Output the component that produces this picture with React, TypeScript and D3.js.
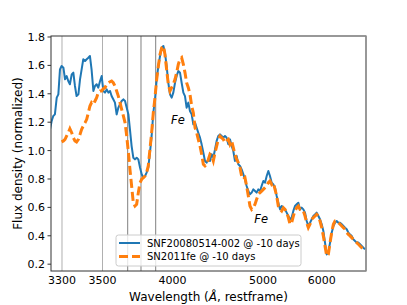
import React from "react";
import * as d3 from "d3";

const xTicks = [3300, 3500, 4000, 5000, 6000];
const yTicks = [0.2, 0.4, 0.6, 0.8, 1.0, 1.2, 1.4, 1.6, 1.8];
const markerLines = [3300, 3500, 3680, 3775, 3880];
const seriesNames = ["SNF20080514-002 @ -10 days", "SN2011fe @ -10 days"];

const waveGrid = [
  3241,3249,3257,3265,3274,3282,3290,3298,3307,3315,3323,3331,3339,3348,3356,3364,3372,3381,3389,3397,3405,3414,3422,3430,3438,3446,3455,3463,3471,3479,3488,3496,
  3506,3518,3530,3542,3554,3565,3577,3589,3601,3613,3625,3637,3649,3661,3673,3685,3696,3708,3720,3732,3744,3756,3768,3780,3792,3804,3815,3827,3839,3851,3863,3875,3887,3899,3911,3923,3935,3946,3958,3970,3982,3994,
  4009,4028,4046,4064,4083,4101,4120,4138,4156,4175,4193,4212,4230,4249,4267,4285,4304,4322,4341,4359,4377,4396,4414,4433,4451,4470,4488,4506,4525,4543,4562,4580,4598,4617,4635,4654,4672,4690,4709,4727,4746,4764,4783,4801,4819,4838,4856,4875,4893,4912,4930,4948,4967,4985,
  5006,5034,5063,5091,5119,5148,5176,5205,5233,5261,5290,5318,5347,5375,5403,5432,5460,5488,5517,5545,5574,5602,5631,5659,5687,5716,5744,5772,5801,5829,5858,5886,5914,5943,5971,6000,6028,6056,6085,6113,6142,6170,6199,6227,6255,6284,6312,6341,6369,6397,6426,6454,6483,6511,6539,6568,6596,6625,6653,6681,6710,6738,
];

const fluxSNF = [
  1.150,1.208,1.244,1.255,1.373,1.396,1.572,1.596,1.584,1.502,1.525,1.490,1.467,1.537,1.549,1.455,1.384,1.396,1.502,1.572,1.643,1.631,1.643,1.654,1.666,1.572,1.420,1.455,1.467,1.443,1.490,1.525,
  1.420,1.408,1.431,1.408,1.420,1.384,1.361,1.338,1.255,1.302,1.326,1.349,1.361,1.349,1.302,1.255,1.150,1.032,0.950,0.938,0.950,0.938,0.880,0.833,0.809,0.821,0.845,0.880,0.985,1.103,1.267,1.361,1.502,1.596,1.666,1.725,1.737,1.690,1.596,1.478,1.396,1.373,
  1.408,1.478,1.525,1.561,1.549,1.478,1.408,1.384,1.302,1.338,1.279,1.255,1.185,1.197,1.161,1.126,1.091,1.044,0.985,0.927,0.915,0.938,0.927,0.974,0.950,1.009,1.068,1.103,1.114,1.103,1.091,1.103,1.091,1.044,1.079,1.032,0.997,0.927,0.962,0.903,0.892,0.868,0.833,0.798,0.751,0.715,0.692,0.704,0.727,0.715,0.704,0.727,0.715,0.751,
  0.786,0.774,0.821,0.856,0.821,0.774,0.762,0.739,0.680,0.633,0.586,0.610,0.598,0.586,0.563,0.539,0.516,0.528,0.575,0.610,0.622,0.633,0.586,0.598,0.586,0.563,0.504,0.469,0.492,0.516,0.539,0.551,0.563,0.539,0.516,0.481,0.434,0.352,0.269,0.281,0.352,0.422,0.469,0.492,0.504,0.492,0.492,0.481,0.469,0.457,0.446,0.422,0.410,0.399,0.375,0.363,0.352,0.352,0.340,0.328,0.316,0.305,
];

const fluxSN2011fe = [
  null,null,null,null,null,null,null,
  1.061,1.068,1.079,1.103,1.126,1.154,1.126,1.091,1.068,1.061,1.079,1.114,1.150,1.173,1.197,1.220,1.267,1.314,1.338,1.326,1.349,1.373,1.408,1.420,1.420,
  1.436,1.443,1.467,1.478,1.485,1.490,1.478,1.455,1.420,1.384,1.338,1.291,1.244,1.197,1.103,0.985,0.868,0.751,0.633,0.610,0.622,0.704,0.774,0.798,0.809,0.821,0.845,0.892,1.009,1.126,1.267,1.373,1.502,1.596,1.678,1.725,1.737,1.678,1.572,1.467,1.420,1.443,
  1.467,1.502,1.549,1.607,1.643,1.654,1.607,1.549,1.478,1.443,1.396,1.314,1.267,1.161,1.126,1.079,1.032,0.974,0.903,0.892,0.903,0.938,0.974,0.962,0.927,0.985,1.032,1.079,1.103,1.091,1.079,1.056,1.068,1.079,1.044,1.068,1.021,0.974,0.938,0.915,0.880,0.821,0.798,0.809,0.751,0.680,0.610,0.586,0.598,0.622,0.657,0.692,0.704,0.715,
  0.727,0.739,0.751,0.774,0.786,0.762,0.774,0.727,0.680,0.610,0.586,0.575,0.598,0.586,0.563,0.528,0.481,0.492,0.539,0.575,0.598,0.610,0.586,0.586,0.575,0.539,0.492,0.457,0.481,0.516,0.528,0.539,0.551,0.539,0.504,0.457,0.399,0.328,0.258,0.269,0.352,0.422,0.481,0.504,0.504,0.492,0.481,0.469,0.457,0.446,0.422,0.410,0.399,0.387,0.375,0.363,0.352,0.340,0.328,0.316,0.305,0.300,
];

const annotations = [
  { wave: 4060, flux: 1.185, text: "Fe" },
  { wave: 4980, flux: 0.49, text: "Fe" },
];

const W = 407;
const H = 305;
const M = { left: 51, right: 366, top: 36, bottom: 271 };
const FONT = "DejaVu Sans, sans-serif";

export default function App() {
  const pw = M.right - M.left;
  // non-uniform wavelength axis: tick positions as fractions of plot width
  const tickFrac = [0.0349, 0.1635, 0.3857, 0.673, 0.8594];
  const x = d3
    .scaleLinear()
    .domain(xTicks)
    .range(tickFrac.map((f) => M.left + f * pw));
  const y = d3.scaleLinear().domain([0.152, 1.807]).range([M.bottom, M.top]);

  const lineGen = d3
    .line<[number, number | null]>()
    .defined((d) => d[1] != null)
    .x((d) => x(d[0]))
    .y((d) => y(d[1] as number));

  const blueData = waveGrid.map((w, i) => [w, fluxSNF[i]] as [number, number | null]);
  const orangeData = waveGrid.map((w, i) => [w, fluxSN2011fe[i]] as [number, number | null]);

  const blue = "#1f77b4";
  const orange = "#ff7f0e";

  const lgX = 116;
  const lgY = 235;

  return (
    <svg
      width={W}
      height={H}
      style={{ position: "absolute", left: 0, top: 0, background: "#fff" }}
      fontFamily={FONT}
    >
      <rect x={0} y={0} width={W} height={H} fill="#fff" />
      <defs>
        <clipPath id="plotclip">
          <rect x={M.left} y={M.top} width={pw} height={M.bottom - M.top} />
        </clipPath>
      </defs>
      {markerLines.map((w, i) => (
        <line
          key={"m" + i}
          x1={x(w)}
          x2={x(w)}
          y1={M.top}
          y2={M.bottom}
          stroke={i < 2 ? "#b0b0b0" : "#808080"}
          strokeWidth={1}
        />
      ))}
      <g clipPath="url(#plotclip)">
        <path d={lineGen(blueData) || ""} fill="none" stroke={blue} strokeWidth={2} strokeLinejoin="round" />
        <path
          d={lineGen(orangeData) || ""}
          fill="none"
          stroke={orange}
          strokeWidth={3}
          strokeDasharray="9,4"
        />
      </g>
      {annotations.map((a, i) => (
        <text
          key={"a" + i}
          x={x(a.wave)}
          y={y(a.flux)}
          fontSize={11.5}
          fontStyle="italic"
          textAnchor="middle"
          fill="#000"
        >
          {a.text}
        </text>
      ))}
      {/* spines */}
      <rect x={M.left} y={M.top} width={pw} height={M.bottom - M.top} fill="none" stroke="#333" strokeWidth={1} />
      <line x1={M.right} x2={M.right} y1={M.top} y2={M.bottom} stroke="#999" strokeWidth={1.5} />
      {/* y ticks */}
      {yTicks.map((t) => (
        <g key={"y" + t}>
          <line x1={M.left - 3.5} x2={M.left} y1={y(t)} y2={y(t)} stroke="#333" />
          <text x={M.left - 6} y={y(t)} dy="0.36em" fontSize={11} textAnchor="end" fill="#000">
            {d3.format(".1f")(t)}
          </text>
        </g>
      ))}
      {/* x ticks */}
      {xTicks.map((t) => (
        <text key={"x" + t} x={x(t)} y={M.bottom + 13} fontSize={11} textAnchor="middle" fill="#000">
          {t}
        </text>
      ))}
      <text x={(M.left + M.right) / 2} y={301} fontSize={12} textAnchor="middle" fill="#000">
        Wavelength (<tspan fontStyle="italic">Å</tspan>, restframe)
      </text>
      <text
        transform={`translate(${22},${(M.top + M.bottom) / 2}) rotate(-90)`}
        fontSize={12}
        textAnchor="middle"
        fill="#000"
      >
        Flux density (normalized)
      </text>
      {/* legend */}
      <rect x={lgX} y={lgY} width={185} height={31} rx={2.5} fill="#fff" fillOpacity={0.8} stroke="#ccc" strokeWidth={1} />
      <line x1={lgX + 3} x2={lgX + 24} y1={lgY + 8} y2={lgY + 8} stroke={blue} strokeWidth={2} />
      <line x1={lgX + 3} x2={lgX + 24} y1={lgY + 21.5} y2={lgY + 21.5} stroke={orange} strokeWidth={3} strokeDasharray="9,4" />
      <text x={lgX + 31} y={lgY + 8} dy="0.36em" fontSize={10} fill="#000">
        {seriesNames[0]}
      </text>
      <text x={lgX + 31} y={lgY + 21.5} dy="0.36em" fontSize={10} fill="#000">
        {seriesNames[1]}
      </text>
    </svg>
  );
}
